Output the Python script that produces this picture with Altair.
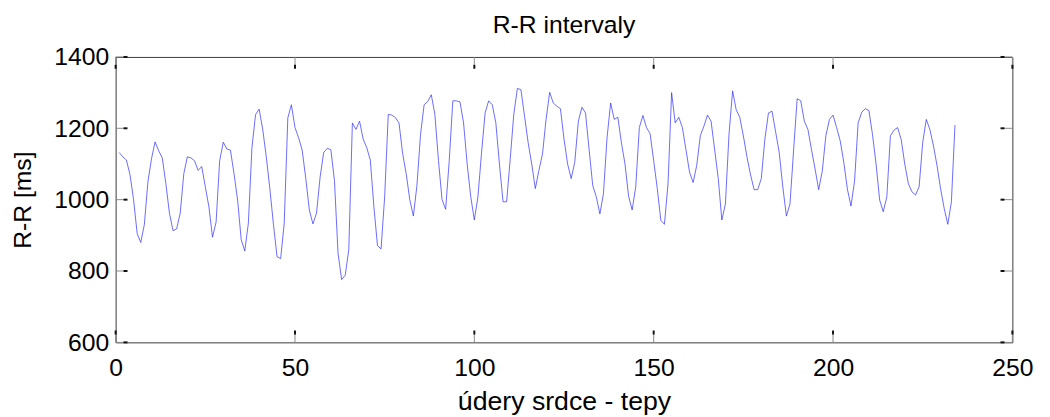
import altair as alt
import pandas as pd

# R-R interval values (ms), beats 1..N
rr_ms = [
    1132, 1120, 1111, 1070, 1000, 905, 880, 930, 1050, 1115,
    1162, 1137, 1117, 1045, 962, 913, 918, 962, 1073, 1120,
    1117, 1109, 1082, 1093, 1036, 980, 895, 937, 1109, 1161,
    1142, 1139, 1073, 999, 888, 856, 934, 1146, 1238, 1254,
    1197, 1120, 1030, 930, 840, 835, 934, 1229, 1266, 1202,
    1174, 1139, 1060, 971, 932, 962, 1063, 1132, 1144, 1140,
    1054, 850, 776, 788, 860, 1215, 1197, 1220, 1170, 1146,
    1111, 980, 871, 862, 1008, 1239, 1237, 1230, 1215, 1130,
    1073, 1000, 954, 1040, 1183, 1266, 1275, 1294, 1239, 1110,
    1000, 973, 1109, 1277, 1277, 1274, 1215, 1100, 1008, 943,
    1008, 1130, 1243, 1277, 1266, 1215, 1100, 994, 994, 1114,
    1239, 1312, 1308, 1234, 1160, 1100, 1031, 1082, 1128, 1225,
    1301, 1271, 1262, 1255, 1170, 1100, 1059, 1105, 1220, 1259,
    1243, 1140, 1040, 1008, 960, 1017, 1174, 1271, 1225, 1231,
    1160, 1100, 1010, 971, 1036, 1202, 1236, 1202, 1185, 1109,
    1031, 942, 931, 1045, 1300, 1215, 1231, 1202, 1140, 1077,
    1048, 1096, 1179, 1206, 1237, 1220, 1140, 1060, 943, 988,
    1183, 1305, 1252, 1231, 1179, 1120, 1070, 1028, 1028, 1059,
    1170, 1243, 1248, 1190, 1132, 1036, 954, 988, 1137, 1283,
    1277, 1220, 1197, 1140, 1086, 1028, 1080, 1179, 1225, 1237,
    1202, 1165, 1105, 1030, 982, 1052, 1215, 1245, 1255, 1250,
    1183, 1100, 999, 966, 1008, 1179, 1195, 1202, 1169, 1100,
    1045, 1022, 1013, 1036, 1160, 1225, 1197, 1151, 1095, 1030,
    975, 931, 994, 1209,
]
beats = list(range(1, len(rr_ms) + 1))

x_ticks = [0, 50, 100, 150, 200, 250]
y_ticks = [600, 800, 1000, 1200, 1400]
x_domain = [0, 250]
y_domain = [600, 1400]

chart_title = "R-R intervaly"
x_title = "údery srdce - tepy"
y_title = "R-R [ms]"

W, H = 908, 289
FONT = "Liberation Sans"

xs = alt.Scale(domain=x_domain, nice=False, zero=False)
ys = alt.Scale(domain=y_domain, nice=False, zero=False)

x_axis = alt.Axis(values=x_ticks, title=x_title, labelPadding=14, format="d",
                  titleY=68, titleBaseline="alphabetic", titleFontSize=27,
                  labelFlush=False, labelOverlap=False)
y_axis = alt.Axis(values=y_ticks, title=y_title, labelPadding=7, format="d",
                  titleX=-86, titleY=H / 2, titleBaseline="alphabetic", titleFontSize=25,
                  labelFlush=False, labelOverlap=False)

df = pd.DataFrame({"beat": beats, "rr": rr_ms})
xt_df = pd.DataFrame({"beat": x_ticks})
yt_df = pd.DataFrame({"rr": y_ticks})

line = alt.Chart(df).mark_line(color="#2a2aff", strokeWidth=0.7, clip=True).encode(
    x=alt.X("beat:Q", scale=xs, axis=x_axis),
    y=alt.Y("rr:Q", scale=ys, axis=y_axis),
)

TICK_GRAY = "#8a8a8a"
TICK_DARK = "#111111"

def xtick(y0, y1, color, sw):
    return alt.Chart(xt_df).mark_rule(color=color, strokeWidth=sw).encode(
        x=alt.X("beat:Q", scale=xs, axis=x_axis),
        y=alt.value(y0), y2=alt.value(y1))

def ytick(x0, x1, color, sw):
    return alt.Chart(yt_df).mark_rule(color=color, strokeWidth=sw).encode(
        y=alt.Y("rr:Q", scale=ys, axis=y_axis),
        x=alt.value(x0), x2=alt.value(x1))

ticks = [
    xtick(H, H - 9, TICK_GRAY, 1), xtick(H - 8, H - 12, TICK_DARK, 2),
    xtick(0, 9, TICK_GRAY, 1), xtick(8, 12, TICK_DARK, 2),
    ytick(0, 9, TICK_GRAY, 1), ytick(8, 12, TICK_DARK, 2),
    ytick(W, W - 9, TICK_GRAY, 1), ytick(W - 8, W - 12, TICK_DARK, 2),
]

chart = alt.layer(line, *ticks).properties(
    width=W, height=H,
    title=alt.TitleParams(chart_title, font=FONT, fontSize=25, fontWeight="normal",
                          color="black", anchor="middle", frame="group", offset=7),
).configure(
    autosize=alt.AutoSizeParams(type="none"),
    padding={"left": 109, "top": 47, "right": 30, "bottom": 72},
).configure_axis(
    domain=False, ticks=False, grid=False,
    labelFont=FONT, labelFontSize=25, labelColor="black",
    titleFont=FONT, titleFontWeight="normal", titleColor="black",
).configure_view(stroke="#3a3a3a", strokeWidth=1)

chart.save("out.html", embed_options={"renderer": "svg", "actions": False})
